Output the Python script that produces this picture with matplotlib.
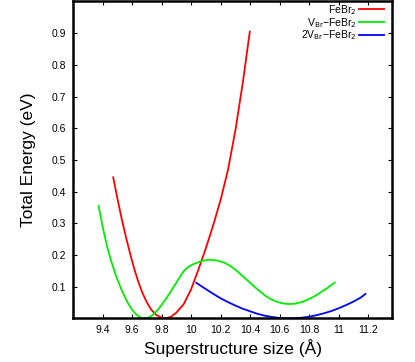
import matplotlib
matplotlib.use("Agg")
import matplotlib.pyplot as plt

plt.rcParams['font.family'] = ['Liberation Sans', 'DejaVu Sans']

# FeBr2
red_x = [9.472, 9.50, 9.53, 9.56, 9.59, 9.614, 9.64, 9.67, 9.70, 9.73, 9.76, 9.79, 9.82, 9.86, 9.90,
         9.95, 10.00, 10.05, 10.10, 10.15, 10.20, 10.25, 10.30, 10.35, 10.397]
red_y = [0.445, 0.379, 0.313, 0.253, 0.198, 0.157, 0.118, 0.080, 0.050, 0.027, 0.012, 0.004, 0.0, 0.004, 0.018,
         0.045, 0.092, 0.155, 0.222, 0.295, 0.375, 0.470, 0.595, 0.745, 0.905]

# VBr-FeBr2
green_x = [9.373, 9.40, 9.43, 9.456, 9.49, 9.53, 9.569, 9.60, 9.63, 9.66, 9.69, 9.72, 9.75, 9.78, 9.83, 9.88,
           9.929, 9.955, 9.98, 10.01, 10.042, 10.08, 10.12, 10.17, 10.222, 10.26, 10.30, 10.34, 10.38, 10.42,
           10.46, 10.50, 10.537, 10.58, 10.62, 10.66, 10.70, 10.74, 10.78, 10.83, 10.87, 10.92, 10.972]
green_y = [0.355, 0.290, 0.228, 0.184, 0.135, 0.088, 0.050, 0.027, 0.011, 0.002, 0.0, 0.004, 0.015, 0.030, 0.062, 0.098,
           0.135, 0.152, 0.162, 0.170, 0.176, 0.182, 0.185, 0.183, 0.176, 0.167, 0.153, 0.137, 0.120, 0.103,
           0.087, 0.072, 0.061, 0.052, 0.047, 0.045, 0.046, 0.050, 0.057, 0.068, 0.080, 0.095, 0.113]

# 2VBr-FeBr2
blue_x = [10.035, 10.07, 10.10, 10.15, 10.20, 10.25, 10.30, 10.35, 10.40, 10.45, 10.50, 10.55, 10.60, 10.65,
          10.70, 10.75, 10.80, 10.85, 10.90, 10.95, 11.00, 11.05, 11.10, 11.15, 11.18]
blue_y = [0.112, 0.101, 0.092, 0.077, 0.063, 0.051, 0.040, 0.030, 0.022, 0.014, 0.008, 0.004, 0.001, 0.0,
          0.0, 0.002, 0.005, 0.010, 0.016, 0.023, 0.032, 0.042, 0.053, 0.066, 0.077]

x_ticks = [9.4, 9.6, 9.8, 10.0, 10.2, 10.4, 10.6, 10.8, 11.0, 11.2]
x_tick_labels = ["9.4", "9.6", "9.8", "10", "10.2", "10.4", "10.6", "10.8", "11", "11.2"]
y_ticks = [0.1, 0.2, 0.3, 0.4, 0.5, 0.6, 0.7, 0.8, 0.9]
y_tick_labels = ["0.1", "0.2", "0.3", "0.4", "0.5", "0.6", "0.7", "0.8", "0.9"]

fig = plt.figure(figsize=(4.15, 3.62), dpi=100)
ax = fig.add_axes([0.176, 0.1207, 0.9446 - 0.176, 0.9959 - 0.1207])

ax.plot(red_x, red_y, color='#ff0000', lw=1.3, label='FeBr$_2$')
ax.plot(green_x, green_y, color='#00ee00', lw=1.3, label='V$_{\\rm Br}$\u2212FeBr$_2$')
ax.plot(blue_x, blue_y, color='#0000ff', lw=1.3, label='2V$_{\\rm Br}$\u2212FeBr$_2$')

ax.set_xlim(9.2, 11.36)
ax.set_ylim(0, 1.0)
ax.set_xticks(x_ticks)
ax.set_xticklabels(x_tick_labels)
ax.set_yticks(y_ticks)
ax.set_yticklabels(y_tick_labels)
ax.tick_params(direction='in', length=3, width=0.8, top=True, right=True, labelsize=7.5, pad=5)
for s in ax.spines.values():
    s.set_linewidth(1.8)

ax.set_xlabel('Superstructure size (Å)', fontsize=12.5, labelpad=3)
ax.set_ylabel('Total Energy (eV)', fontsize=12.5, labelpad=11)

leg = ax.legend(loc='upper right', frameon=False, markerfirst=False, fontsize=7.5,
                handlelength=2.4, handletextpad=0.25, labelspacing=-0.1,
                borderpad=0.0, borderaxespad=0.0, bbox_to_anchor=(0.975, 0.995))
for t in leg.get_texts():
    t.set_ha('right')

fig.savefig('out.png', dpi=100)
